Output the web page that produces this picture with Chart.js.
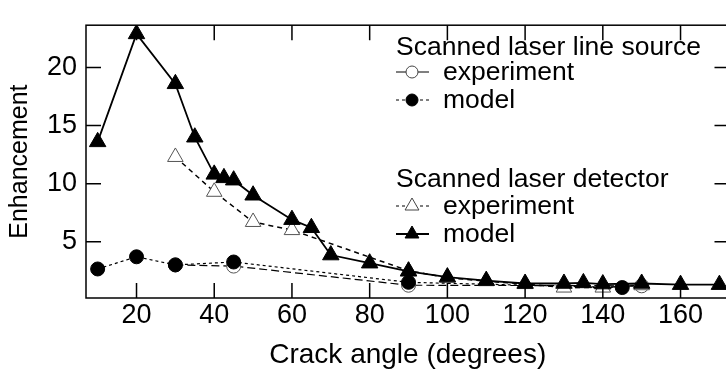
<!DOCTYPE html>
<html>
<head>
<meta charset="utf-8">
<script src="https://cdn.jsdelivr.net/npm/chart.js@4.4.0/dist/chart.umd.min.js"></script>
<style>
  html, body { margin: 0; padding: 0; background: #fff; overflow: hidden; }
  #wrap { width: 726px; height: 376px; overflow: hidden; }
</style>
</head>
<body>
<div id="wrap"><canvas id="myChart" width="740" height="376"></canvas></div>
<script>
// tick labels
const xTicks = [20, 40, 60, 80, 100, 120, 140, 160]
const yTicks = [5, 10, 15, 20]

// scanned laser line source
const srcExpAngle = [30, 45, 90, 150]
const srcExpEnh = [3.0, 2.9, 1.25, 1.2]
const srcModelAngle = [10, 20, 30, 45, 90, 145]
const srcModelEnh = [2.65, 3.7, 3.0, 3.25, 1.5, 1.05]

// scanned laser detector
const detExpAngle = [30, 40, 50, 60, 90, 100, 110, 120, 130, 140, 150]
const detExpEnh = [12.3, 9.3, 6.7, 6.0, 2.5, 1.9, 1.6, 1.35, 1.05, 1.05, 1.25]
const detModelAngle = [10, 20, 30, 35, 40, 42.5, 45, 50, 60, 65, 70, 80, 90, 100, 110, 120, 130, 135, 140, 150, 160, 170]
const detModelEnh = [13.6, 22.9, 18.6, 14.0, 10.8, 10.5, 10.3, 9.0, 6.9, 6.2, 3.85, 3.15, 2.45, 1.95, 1.65, 1.4, 1.4, 1.45, 1.35, 1.4, 1.3, 1.3]

const legendItems = [
  {head: 'Scanned laser line source'},
  {text: 'experiment', style: 'circle', fill: '#fff', stroke: '#444', dash: [], lw: 1},
  {text: 'model', style: 'circle', fill: '#000', stroke: '#000', dash: [3, 3], lw: 1.2},
  {head: 'Scanned laser detector'},
  {text: 'experiment', style: 'triangle', fill: '#fff', stroke: '#444', dash: [3, 3], lw: 1.2},
  {text: 'model', style: 'triangle', fill: '#000', stroke: '#000', dash: [], lw: 2}
]
const legendBase = [55, 80, 108, 187, 214, 242]

const pts = (xs, ys) => xs.map((x, i) => ({x: x, y: ys[i]}))
const FONT = '"Liberation Sans", Arial, Helvetica, sans-serif'

function marker(ctx, style, x, y, r, fill, stroke) {
  ctx.beginPath()
  if (style == 'circle') {
    ctx.arc(x, y, r, 0, Math.PI * 2)
  } else {
    ctx.moveTo(x, y - r)
    ctx.lineTo(x + r * 0.866, y + r / 2)
    ctx.lineTo(x - r * 0.866, y + r / 2)
    ctx.closePath()
  }
  ctx.fillStyle = fill
  ctx.fill()
  ctx.lineWidth = 1
  ctx.strokeStyle = stroke
  ctx.stroke()
}

const framePlugin = {
  id: 'frame',
  afterDraw(chart) {
    const ctx = chart.ctx
    const a = chart.chartArea
    const x = chart.scales.x, y = chart.scales.y
    ctx.save()
    ctx.strokeStyle = '#000'
    ctx.lineWidth = 1.5
    ctx.setLineDash([])
    ctx.strokeRect(a.left, a.top, a.right - a.left, a.bottom - a.top)
    ctx.beginPath()
    for (const v of xTicks) {
      const p = x.getPixelForValue(v)
      ctx.moveTo(p, a.bottom); ctx.lineTo(p, a.bottom - 15)
      ctx.moveTo(p, a.top); ctx.lineTo(p, a.top + 15)
    }
    for (const v of yTicks) {
      const p = y.getPixelForValue(v)
      ctx.moveTo(a.left, p); ctx.lineTo(a.left + 15, p)
      ctx.moveTo(a.right, p); ctx.lineTo(a.right - 15, p)
    }
    ctx.stroke()

    // legend
    ctx.font = '26.5px ' + FONT
    ctx.textBaseline = 'alphabetic'
    ctx.fillStyle = '#000'
    legendItems.forEach((it, i) => {
      const b = legendBase[i]
      if (it.head) {
        ctx.fillStyle = '#000'
        ctx.fillText(it.head, 396, b)
        return
      }
      const cy = b - 8
      ctx.beginPath()
      ctx.setLineDash(it.dash)
      ctx.lineWidth = it.lw
      ctx.strokeStyle = '#000'
      ctx.moveTo(396, cy); ctx.lineTo(429, cy)
      ctx.stroke()
      ctx.setLineDash([])
      marker(ctx, it.style, 412, cy, it.style == 'circle' ? 6 : 8, it.fill, it.stroke)
      ctx.fillStyle = '#000'
      ctx.fillText(it.text, 443, b)
    })
    ctx.restore()
  }
}

// first dataset is drawn on top
new Chart(document.getElementById('myChart'), {
  type: 'scatter',
  data: {
    datasets: [
      {
        label: 'detector model',
        data: pts(detModelAngle, detModelEnh),
        showLine: true,
        borderColor: '#000', borderWidth: 1.8,
        pointStyle: 'triangle', pointRadius: 9.5,
        pointBackgroundColor: '#000', pointBorderColor: '#000', pointBorderWidth: 1
      },
      {
        label: 'line source model',
        data: pts(srcModelAngle, srcModelEnh),
        showLine: true,
        borderColor: '#000', borderWidth: 1.2, borderDash: [3, 3],
        pointStyle: 'circle', pointRadius: 7,
        pointBackgroundColor: '#000', pointBorderColor: '#000', pointBorderWidth: 1
      },
      {
        label: 'detector experiment',
        data: pts(detExpAngle, detExpEnh),
        showLine: true,
        borderColor: '#000', borderWidth: 1.5, borderDash: [5, 4],
        pointStyle: 'triangle', pointRadius: 9,
        pointBackgroundColor: '#fff', pointBorderColor: '#555', pointBorderWidth: 1
      },
      {
        label: 'line source experiment',
        data: pts(srcExpAngle, srcExpEnh),
        showLine: true,
        borderColor: '#000', borderWidth: 1.2, borderDash: [8, 4],
        pointStyle: 'circle', pointRadius: 7,
        pointBackgroundColor: '#fff', pointBorderColor: '#555', pointBorderWidth: 1
      }
    ]
  },
  options: {
    responsive: false,
    animation: false,
    devicePixelRatio: 1,
    layout: {padding: {top: 12, right: 8, left: 0, bottom: 0}},
    plugins: {legend: {display: false}, tooltip: {enabled: false}},
    scales: {
      x: {
        type: 'linear', min: 7, max: 172.6,
        afterBuildTicks: s => { s.ticks = xTicks.map(v => ({value: v})) },
        afterFit: s => { s.height = 78 },
        grid: {display: false, drawTicks: false},
        border: {display: false},
        ticks: {color: '#000', font: {family: FONT, size: 27}, padding: 1, maxRotation: 0},
        title: {display: true, text: 'Crack angle (degrees)', color: '#000', font: {family: FONT, size: 28}, padding: {top: 0}}
      },
      y: {
        type: 'linear', min: 0.15, max: 23.65,
        afterBuildTicks: s => { s.ticks = yTicks.map(v => ({value: v})) },
        afterFit: s => { s.width = 86 },
        grid: {display: false, drawTicks: false},
        border: {display: false},
        ticks: {color: '#000', font: {family: FONT, size: 27}, padding: 9},
        title: {display: true, text: 'Enhancement', color: '#000', font: {family: FONT, size: 25}, padding: {top: 5, bottom: 0}}
      }
    }
  },
  plugins: [framePlugin]
})
</script>
</body>
</html>
